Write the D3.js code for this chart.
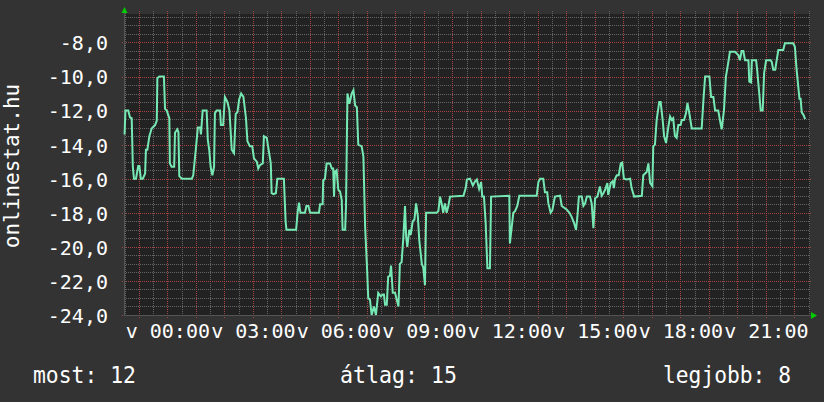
<!DOCTYPE html>
<html>
<head>
<meta charset="utf-8">
<script src="https://cdn.jsdelivr.net/npm/d3@7/dist/d3.min.js"></script>
<style>
  body { margin: 0; background: #333333; }
  svg text { font-family: "DejaVu Sans Mono", monospace; fill: #ffffff; }
  .grid line { shape-rendering: crispEdges; }
</style>
</head>
<body>
<div id="chart"></div>
<script>
// time in hours relative to midnight (negative = previous evening)
const hours = [
  -1.50, -1.47, -1.37, -1.31, -1.25, -1.21, -1.17, -1.10, -1.02, -0.98, -0.93, -0.86, -0.78, -0.75, -0.70, -0.63,
  -0.55, -0.43, -0.37, -0.35, -0.28, -0.12, -0.08, -0.02, 0.07, 0.09, 0.15, 0.24, 0.27, 0.35, 0.39, 0.42,
  0.51, 0.86, 0.91, 1.01, 1.07, 1.15, 1.18, 1.24, 1.38, 1.42, 1.47, 1.52, 1.58, 1.64, 1.67, 1.73,
  1.85, 1.88, 1.96, 2.02, 2.11, 2.18, 2.26, 2.34, 2.40, 2.46, 2.52, 2.59, 2.67, 2.76, 2.81, 2.90,
  2.98, 3.04, 3.14, 3.19, 3.25, 3.35, 3.39, 3.49, 3.54, 3.63, 3.66, 3.72, 3.81, 3.86, 4.09, 4.15,
  4.18, 4.52, 4.57, 4.62, 4.67, 4.83, 4.88, 4.95, 5.01, 5.32, 5.36, 5.45, 5.47, 5.53, 5.59, 5.71,
  5.77, 5.82, 5.85, 5.88, 5.94, 6.00, 6.06, 6.12, 6.15, 6.24, 6.27, 6.32, 6.39, 6.47, 6.53, 6.59,
  6.65, 6.70, 6.82, 6.88, 6.94, 7.00, 7.05, 7.11, 7.17, 7.25, 7.32, 7.40, 7.49, 7.56, 7.60, 7.64,
  7.70, 7.75, 7.81, 7.85, 7.91, 7.99, 8.05, 8.11, 8.16, 8.22, 8.28, 8.34, 8.38, 8.42, 8.49, 8.54,
  8.61, 8.67, 8.73, 8.79, 8.84, 8.93, 8.98, 9.04, 9.08, 9.45, 9.51, 9.57, 9.63, 9.68, 9.74, 9.80,
  9.86, 9.92, 10.39, 10.47, 10.51, 10.62, 10.72, 10.80, 10.86, 10.94, 11.01, 11.05, 11.11, 11.17, 11.23, 11.32,
  11.36, 12.00, 12.02, 12.08, 12.14, 12.20, 12.28, 12.35, 12.96, 13.02, 13.08, 13.19, 13.25, 13.33, 13.37, 13.45,
  13.51, 13.60, 13.78, 13.84, 14.01, 14.11, 14.19, 14.27, 14.34, 14.39, 14.44, 14.54, 14.60, 14.66, 14.72, 14.83,
  14.89, 14.95, 15.01, 15.09, 15.18, 15.24, 15.30, 15.36, 15.44, 15.47, 15.56, 15.63, 15.67, 15.71, 15.77, 15.84,
  15.91, 15.96, 16.02, 16.12, 16.24, 16.29, 16.38, 16.65, 16.70, 16.82, 16.88, 16.94, 17.02, 17.05, 17.11, 17.17,
  17.26, 17.31, 17.38, 17.43, 17.50, 17.58, 17.64, 17.70, 17.75, 17.81, 17.87, 17.93, 18.01, 18.05, 18.13, 18.20,
  18.25, 18.32, 18.40, 18.75, 18.81, 18.87, 19.02, 19.08, 19.16, 19.22, 19.33, 19.39, 19.45, 19.53, 19.60, 19.68,
  19.74, 19.92, 20.04, 20.09, 20.15, 20.21, 20.27, 20.39, 20.42, 20.48, 20.51, 20.66, 20.70, 20.77, 20.82, 20.89,
  20.94, 21.01, 21.17, 21.21, 21.26, 21.33, 21.38, 21.44, 21.61, 21.67, 21.96, 22.02, 22.08, 22.18, 22.22, 22.26,
  22.32, 22.38
];

// negative rank on onlinestat.hu
const ranks = [
  -13.4, -12.0, -12.0, -12.4, -12.45, -15.3, -16.0, -16.0, -15.25, -15.25, -16.0, -16.0, -15.7, -14.3, -14.3, -13.5,
  -13.05, -12.85, -12.6, -10.1, -10.0, -10.0, -11.9, -12.0, -12.45, -15.1, -15.3, -15.3, -13.3, -13.1, -13.25, -15.85,
  -16.0, -16.0, -15.8, -14.1, -13.0, -13.0, -13.4, -12.0, -12.0, -13.7, -14.3, -15.3, -15.8, -15.3, -12.15, -12.0,
  -12.0, -12.85, -12.85, -11.2, -11.5, -12.0, -14.3, -14.5, -12.2, -12.1, -11.35, -11.0, -11.2, -12.45, -13.8, -14.1,
  -14.1, -14.8, -15.0, -15.4, -15.2, -15.1, -13.5, -13.6, -14.15, -15.1, -16.85, -16.9, -16.85, -16.0, -16.0, -18.5,
  -19.0, -19.0, -18.0, -17.4, -18.0, -18.0, -17.6, -17.6, -18.0, -18.0, -17.5, -17.5, -16.1, -16.0, -15.1, -15.1,
  -15.4, -15.4, -17.05, -15.6, -15.5, -16.65, -16.75, -17.25, -19.0, -19.0, -17.6, -11.0, -11.6, -11.0, -10.8, -11.7,
  -11.8, -14.0, -14.1, -14.7, -18.8, -20.96, -23.0, -23.1, -24.0, -23.5, -24.0, -22.7, -22.9, -22.8, -22.8, -23.4,
  -23.4, -21.75, -21.7, -21.1, -22.7, -22.7, -23.1, -23.5, -21.0, -20.9, -19.5, -17.6, -19.4, -20.0, -19.0, -19.3,
  -18.5, -18.4, -17.45, -18.2, -19.6, -21.0, -21.2, -22.25, -18.0, -18.0, -17.9, -17.05, -17.5, -18.0, -17.45, -18.0,
  -17.6, -17.05, -17.0, -16.55, -16.05, -16.0, -16.4, -16.15, -16.05, -16.6, -16.2, -17.05, -17.05, -18.6, -21.25, -21.25,
  -17.05, -17.0, -19.8, -18.9, -18.0, -17.9, -17.6, -17.0, -17.0, -16.2, -16.0, -16.0, -16.8, -16.8, -17.45, -18.0,
  -17.85, -17.05, -17.0, -17.6, -17.8, -18.0, -18.25, -18.6, -19.0, -18.2, -17.05, -17.05, -17.6, -17.45, -17.05, -17.05,
  -17.45, -18.9, -17.15, -17.05, -16.45, -17.0, -16.85, -16.65, -16.25, -16.95, -16.25, -16.15, -16.55, -16.0, -15.8, -15.8,
  -15.1, -15.05, -16.0, -16.05, -16.0, -16.55, -17.05, -17.0, -15.8, -15.6, -15.1, -16.25, -16.45, -14.1, -14.0, -12.55,
  -11.5, -11.5, -12.55, -13.5, -13.9, -12.95, -12.35, -12.55, -12.45, -13.5, -13.6, -12.85, -12.85, -12.55, -12.55, -12.15,
  -11.55, -12.2, -13.05, -13.05, -11.4, -10.0, -10.0, -11.2, -11.2, -12.0, -12.0, -12.55, -13.1, -12.0, -10.0, -9.2,
  -8.55, -8.55, -8.75, -9.05, -8.5, -8.5, -9.05, -9.05, -10.3, -10.35, -9.05, -9.05, -9.7, -11.0, -12.0, -12.0,
  -9.8, -9.05, -9.05, -9.15, -9.6, -9.6, -9.05, -8.45, -8.45, -8.05, -8.05, -8.25, -9.6, -11.3, -11.3, -12.1,
  -12.25, -12.5
];

const yTicks = [-24, -22, -20, -18, -16, -14, -12, -10, -8];
const xTicks = [0, 3, 6, 9, 12, 15, 18, 21];
const dayAbbr = 'v';
const siteName = 'onlinestat.hu';
const legendLabels = ['most', 'átlag', 'legjobb'];
const legendValues = [12, 15, 8];

class RankChart {

  constructor(_config) {
    this.config = {
      parentElement: _config.parentElement,
      containerWidth: 824,
      containerHeight: 402,
      margin: {top: 14, right: 14, bottom: 87, left: 124},
      xDomain: [-1.52, 22.55],
      yDomain: [-24, -6.33]
    };
    this.data = hours.map((h, i) => ({hour: h, rank: ranks[i]}));
    this.initVis();
  }

  initVis() {
    let vis = this;

    vis.width = vis.config.containerWidth - vis.config.margin.left - vis.config.margin.right;
    vis.height = vis.config.containerHeight - vis.config.margin.top - vis.config.margin.bottom;

    vis.svg = d3.select(vis.config.parentElement).append('svg')
        .attr('width', vis.config.containerWidth)
        .attr('height', vis.config.containerHeight);

    vis.svg.append('rect')
        .attr('width', vis.config.containerWidth)
        .attr('height', vis.config.containerHeight)
        .attr('fill', '#333333');

    vis.chart = vis.svg.append('g')
        .attr('transform', `translate(${vis.config.margin.left},${vis.config.margin.top})`);

    vis.xScale = d3.scaleLinear().domain(vis.config.xDomain).range([0, vis.width]);
    vis.yScale = d3.scaleLinear().domain(vis.config.yDomain).range([vis.height, 0]);

    vis.chart.append('rect')
        .attr('width', vis.width)
        .attr('height', vis.height)
        .attr('fill', '#222222');

    vis.renderVis();
  }

  renderVis() {
    let vis = this;
    const px = v => Math.round(v) + 0.5;

    // grid: minor every half unit / half hour, major every 2 units / hour
    const yMinor = d3.range(-24, -6.3, 0.5).filter(d => Math.abs(d % 2) > 0.01);
    const yMajor = yTicks;
    const xMinor = d3.range(-1.5, 22.6, 0.5).filter(d => Math.abs(d % 1) > 0.01);
    const xMajor = d3.range(-1, 23, 1);

    const grid = vis.chart.append('g').attr('class', 'grid');

    grid.selectAll('.h-minor')
        .data(yMinor)
      .join('line')
        .attr('class', 'h-minor')
        .attr('x1', 0).attr('x2', vis.width)
        .attr('y1', d => px(vis.yScale(d))).attr('y2', d => px(vis.yScale(d)))
        .attr('stroke', '#646464')
        .attr('stroke-dasharray', '1,1');

    grid.selectAll('.v-minor')
        .data(xMinor)
      .join('line')
        .attr('class', 'v-minor')
        .attr('x1', d => px(vis.xScale(d))).attr('x2', d => px(vis.xScale(d)))
        .attr('y1', -3).attr('y2', vis.height + 2)
        .attr('stroke', '#646464')
        .attr('stroke-dasharray', '1,1');

    grid.selectAll('.h-major')
        .data(yMajor)
      .join('line')
        .attr('class', 'h-major')
        .attr('x1', -2).attr('x2', vis.width + 2)
        .attr('y1', d => px(vis.yScale(d))).attr('y2', d => px(vis.yScale(d)))
        .attr('stroke', '#a84444')
        .attr('stroke-dasharray', '1,1');

    grid.selectAll('.v-major')
        .data(xMajor)
      .join('line')
        .attr('class', 'v-major')
        .attr('x1', d => px(vis.xScale(d))).attr('x2', d => px(vis.xScale(d)))
        .attr('y1', -3).attr('y2', vis.height + 3)
        .attr('stroke', '#a84444')
        .attr('stroke-dasharray', '1,1');

    // axis lines
    grid.append('line')
        .attr('x1', 0.5).attr('x2', 0.5)
        .attr('y1', -2).attr('y2', vis.height)
        .attr('stroke', '#555555');
    grid.append('line')
        .attr('x1', 0).attr('x2', vis.width + 2)
        .attr('y1', vis.height + 0.5).attr('y2', vis.height + 0.5)
        .attr('stroke', '#555555');

    // arrows
    vis.chart.append('path')
        .attr('d', `M-2.5,-1 L3.5,-1 L0.5,-7 Z`)
        .attr('fill', '#00cc00');
    vis.chart.append('path')
        .attr('d', `M${vis.width + 1},${vis.height - 3} L${vis.width + 1},${vis.height + 4} L${vis.width + 7},${vis.height + 0.5} Z`)
        .attr('fill', '#00cc00');

    // the series
    const line = d3.line()
        .x(d => vis.xScale(d.hour))
        .y(d => vis.yScale(d.rank));

    vis.chart.append('path')
        .datum(vis.data)
        .attr('d', line)
        .attr('fill', 'none')
        .attr('stroke', '#76e8b4')
        .attr('stroke-width', 2)
        .attr('stroke-linejoin', 'miter');

    // y axis labels
    const yAxis = d3.axisLeft(vis.yScale)
        .tickValues(yTicks)
        .tickSize(0)
        .tickPadding(16)
        .tickFormat(d => d.toFixed(1).replace('.', ','));

    const yAxisG = vis.chart.append('g').call(yAxis);
    yAxisG.select('.domain').remove();
    yAxisG.selectAll('text')
        .attr('dy', '0.37em')
        .style('font-family', '"DejaVu Sans Mono", monospace')
        .style('font-size', '20px')
        .attr('fill', '#ffffff');

    // x axis labels
    const xAxis = d3.axisBottom(vis.xScale)
        .tickValues(xTicks)
        .tickSize(0)
        .tickPadding(9)
        .tickFormat(d => `${dayAbbr} ${String(d).padStart(2, '0')}:00`);

    const xAxisG = vis.chart.append('g')
        .attr('transform', `translate(0,${vis.height})`)
        .call(xAxis);
    xAxisG.select('.domain').remove();
    xAxisG.selectAll('text')
        .style('font-family', '"DejaVu Sans Mono", monospace')
        .style('font-size', '20px')
        .attr('fill', '#ffffff');

    // vertical title
    vis.svg.append('text')
        .attr('transform', `translate(19,${vis.config.margin.top + vis.height * 0.505}) rotate(-90)`)
        .attr('text-anchor', 'middle')
        .style('font-size', '21px')
        .text(siteName);

    // legend line at the bottom
    const legendX = [33, 340, 663];
    const legendW = [103, 117, 128];
    vis.svg.selectAll('.legend-text')
        .data(legendLabels)
      .join('text')
        .attr('class', 'legend-text')
        .attr('x', (d, i) => legendX[i])
        .attr('y', 383)
        .attr('textLength', (d, i) => legendW[i])
        .attr('lengthAdjust', 'spacingAndGlyphs')
        .style('font-size', '23px')
        .text((d, i) => `${d}: ${legendValues[i]}`);
  }
}

new RankChart({parentElement: '#chart'});
</script>
</body>
</html>
